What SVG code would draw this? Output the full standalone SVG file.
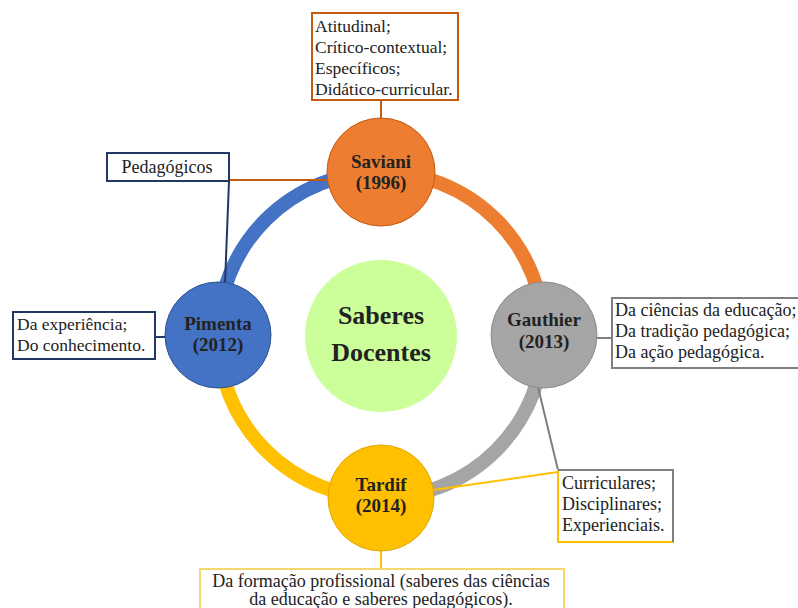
<svg xmlns="http://www.w3.org/2000/svg" width="798" height="608" viewBox="0 0 798 608" font-family="'Liberation Serif', 'Times New Roman', 'DejaVu Serif', serif">
<style>
text{font-family:'Liberation Serif','Times New Roman','DejaVu Serif',serif;fill:#222}
.box{fill:#fff;stroke-width:2}
.t{font-size:18px}
.s{font-size:17.5px}
.n{font-size:19px;font-weight:bold;text-anchor:middle}
.arc{fill:none;stroke-width:14}
.ln{fill:none;stroke-width:2}
</style>
<rect width="798" height="608" fill="#fff"/>
<g id="ring">
<path class="arc" stroke="#4472C4" d="M218 335 A163 163 0 0 1 381 172"/>
<path class="arc" stroke="#ED7D31" d="M381 172 A163 163 0 0 1 544 335"/>
<path class="arc" stroke="#A5A5A5" d="M544 335 A163 163 0 0 1 381 498"/>
<path class="arc" stroke="#FFC000" d="M381 498 A163 163 0 0 1 218 335"/>
</g>
<g id="connectors">
<line class="ln" stroke="#C55A11" x1="381" y1="100" x2="381" y2="120"/>
<line class="ln" stroke="#C55A11" x1="229" y1="180" x2="330" y2="180"/>
<line class="ln" stroke="#203864" x1="229" y1="181" x2="225" y2="284"/>
<line class="ln" stroke="#203864" x1="155" y1="337" x2="167" y2="337"/>
<line class="ln" stroke="#7F7F7F" x1="596" y1="338" x2="612" y2="338"/>
<line class="ln" stroke="#7F7F7F" x1="538" y1="387" x2="558" y2="470"/>
<line class="ln" stroke="#FFC000" x1="433" y1="490" x2="558" y2="472"/>
<line class="ln" stroke="#FFC000" x1="381" y1="550" x2="381" y2="569"/>
</g>
<g id="center">
<circle cx="381" cy="336" r="76" fill="#CCFF99"/>
<text x="381" y="324" font-size="26" font-weight="bold" text-anchor="middle">Saberes</text>
<text x="381" y="361" font-size="26" font-weight="bold" text-anchor="middle">Docentes</text>
</g>
<g id="saviani">
<circle cx="381" cy="172" r="54" fill="#ED7D31" stroke="#C55A11" stroke-width="1"/>
<text class="n" x="381" y="168">Saviani</text>
<text class="n" x="381" y="189">(1996)</text>
</g>
<g id="pimenta">
<circle cx="218" cy="335" r="53" fill="#4472C4" stroke="#2F528F" stroke-width="1"/>
<text class="n" x="218" y="330">Pimenta</text>
<text class="n" x="218" y="351">(2012)</text>
</g>
<g id="gauthier">
<circle cx="544" cy="335" r="53" fill="#A5A5A5" stroke="#8C8C8C" stroke-width="1"/>
<text class="n" x="544" y="326">Gauthier</text>
<text class="n" x="544" y="348">(2013)</text>
</g>
<g id="tardif">
<circle cx="381" cy="498" r="53" fill="#FFC000" stroke="#E0A800" stroke-width="1"/>
<text class="n" x="381" y="491">Tardif</text>
<text class="n" x="381" y="512">(2014)</text>
</g>
<g id="box-saviani">
<rect class="box" stroke="#C55A11" x="312" y="13" width="146" height="87"/>
<text class="s" x="315" y="32">Atitudinal;</text>
<text class="s" x="315" y="53">Crítico-contextual;</text>
<text class="s" x="315" y="74">Específicos;</text>
<text class="s" x="315" y="95">Didático-curricular.</text>
</g>
<g id="box-pedagogicos">
<rect class="box" stroke="#203864" x="107" y="153" width="122" height="28"/>
<text class="t" x="167" y="173" text-anchor="middle">Pedagógicos</text>
</g>
<g id="box-pimenta">
<rect class="box" stroke="#203864" x="13" y="312" width="142" height="47"/>
<text class="s" x="17" y="330">Da experiência;</text>
<text class="s" x="17" y="351">Do conhecimento.</text>
</g>
<g id="box-gauthier">
<rect class="box" stroke="#7F7F7F" x="612" y="298" width="200" height="70"/>
<text class="t" x="615" y="316">Da ciências da educação;</text>
<text class="t" x="615" y="337">Da tradição pedagógica;</text>
<text class="t" x="615" y="358">Da ação pedagógica.</text>
</g>
<g id="box-tardif-gauthier">
<rect class="box" stroke="#FFC000" x="558" y="470" width="115" height="72"/>
<path class="ln" stroke="#7F7F7F" d="M558 470 H673 V542"/>
<text class="t" x="562" y="489">Curriculares;</text>
<text class="t" x="562" y="510">Disciplinares;</text>
<text class="t" x="562" y="531">Experienciais.</text>
</g>
<g id="box-tardif">
<rect class="box" stroke="#F5D76E" x="200" y="569" width="364" height="50"/>
<text class="t" x="381" y="587" text-anchor="middle">Da formação profissional (saberes das ciências</text>
<text class="t" x="381" y="605" text-anchor="middle">da educação e saberes pedagógicos).</text>
</g>
</svg>
